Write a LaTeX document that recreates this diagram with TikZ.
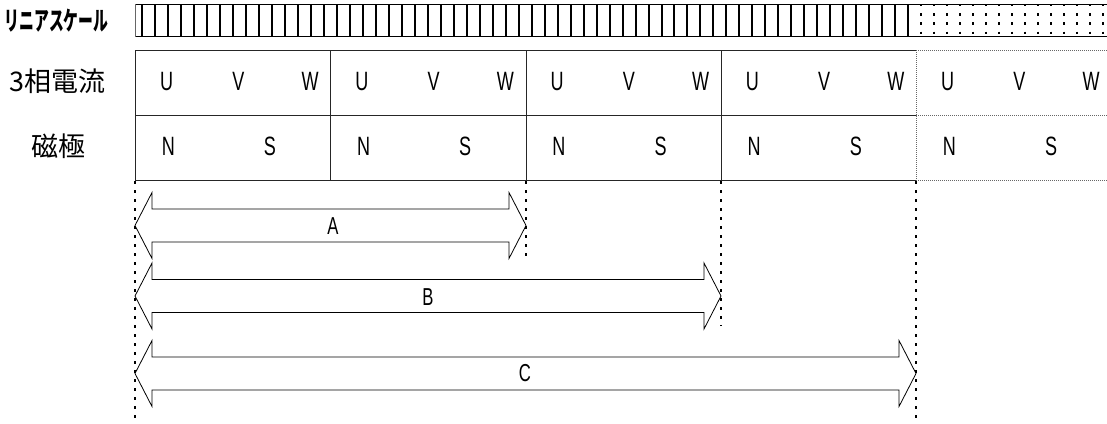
\documentclass[tikz,border=0pt]{standalone}
\usepackage{fontspec}
\setmainfont{Liberation Sans}
\newfontfamily\narrowf[FakeStretch=0.68]{Liberation Sans}
\newfontfamily\cjk{Noto Sans CJK JP}
\newfontfamily\cjkn[FakeStretch=0.57]{Noto Sans CJK JP}
\usetikzlibrary{calc}
\begin{document}
\begin{tikzpicture}[x=1pt,y=-1pt,
  lbl/.style={font=\narrowf\fontsize{26.5}{26}\selectfont, inner sep=0pt},
  dimlbl/.style={font=\narrowf\fontsize{24.5}{24}\selectfont, inner sep=0pt},
  rowlbl/.style={font=\cjk\fontsize{27}{27}\selectfont, inner sep=0pt},
  gridline/.style={draw=black!85, line width=0.9pt},
  fineline/.style={draw=black!60, line width=0.7pt, dash pattern=on 1pt off 1pt},
  guide/.style={draw=black, line width=2.2pt, dash pattern=on 3pt off 6pt},
  blockarrow/.style={draw=black, line width=0.8pt, fill=white, line join=miter},
  tick/.style={draw=black, line width=2pt},
  dottick/.style={draw=black, line width=2.4pt, dash pattern=on 2.3pt off 6.9pt}
]
\useasboundingbox (0,0) rectangle (1107,423);

% ---- row labels
\node[font=\cjkn\bfseries\fontsize{26}{26}\selectfont, inner sep=0pt] (scalelbl) at (56.5,20.5) {リニアスケール};
\node[rowlbl] (curlbl) at (57.5,81.7) {3相電流};
\node[rowlbl] (polelbl) at (58.5,146) {磁極};

% ---- linear scale
\foreach \i in {0,...,59}
  \draw[tick] ({142.3+12.98*\i},4.3) -- ({142.3+12.98*\i},36.7);
\foreach \i in {60,...,74}
  \draw[dottick] ({142.3+12.98*\i},4) -- ({142.3+12.98*\i},36.5);
\draw[line width=1pt] (135.7,4.3) -- (1107,4.3);
\draw[line width=1.2pt] (135.7,36.7) -- (1107,36.7);
\draw[draw=black!60, line width=1pt] (135.7,4.3) -- (135.7,36.7);

% ---- table
\draw[gridline] (916,50) -- (135,50) -- (135,180) -- (916,180);
\draw[gridline] (135,115.7) -- (916,115.7);
\foreach \xx in {330.5,526,721}
  \draw[gridline] (\xx,50) -- (\xx,180);
\draw[fineline] (916,50) -- (1107,50);
\draw[fineline] (916,115.7) -- (1107,115.7);
\draw[fineline] (916,180) -- (1107,180);
\draw[fineline] (916,50) -- (916,180);

\foreach \k [evaluate=\k as \x using 135+195.25*\k] in {0,...,4} {
  \node[lbl] (u\k) at (\x+31.7,81.5) {U};
  \node[lbl] (v\k) at (\x+103.3,81.5) {V};
  \node[lbl] (w\k) at (\x+175,81.5) {W};
  \node[lbl] (n\k) at (\x+33.3,146.5) {N};
  \node[lbl] (s\k) at (\x+135,146.5) {S};
}

% ---- dimension arrows
\coordinate (aL) at (135,225.5); \coordinate (aR) at (526,225.5);
\coordinate (bL) at (135,296);   \coordinate (bR) at (721,296);
\coordinate (cL) at (135,373.5); \coordinate (cR) at (916,373.5);
\foreach \p in {a,b,c} {
  \draw[blockarrow] (\p L) -- ++(17,-33) -- ++(0,16.5)
    -- ($(\p R)+(-17,-16.5)$) -- ++(0,-16.5) -- (\p R) -- ++(-17,33) -- ++(0,-16.5)
    -- ($(\p L)+(17,16.5)$) -- ++(0,16.5) -- cycle;
}
\node[dimlbl] (alab) at (333,226) {A};
\node[dimlbl] (blab) at (428,297) {B};
\node[dimlbl] (clab) at (525,373) {C};

% ---- guide lines
\coordinate (g0t) at (135,181); \coordinate (g0b) at (135,423);
\coordinate (g1t) at (526,181); \coordinate (g1b) at (526,259);
\coordinate (g2t) at (721,181); \coordinate (g2b) at (721,326);
\coordinate (g3t) at (916,181); \coordinate (g3b) at (916,423);
\foreach \g in {0,1,2,3}
  \draw[guide] (g\g t) -- (g\g b);
\end{tikzpicture}
\end{document}
